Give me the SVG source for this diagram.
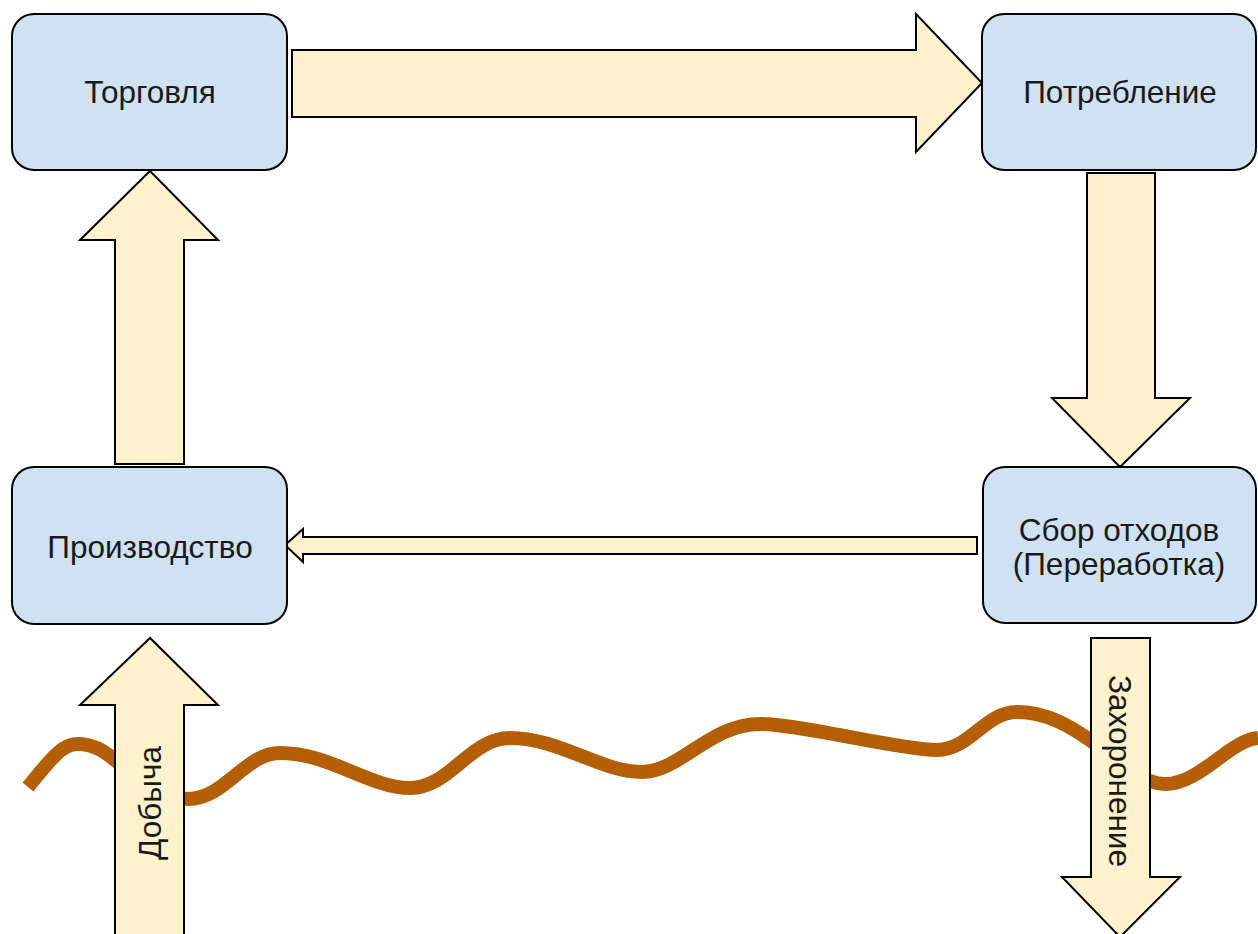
<svg xmlns="http://www.w3.org/2000/svg" width="1258" height="934" viewBox="0 0 1258 934">
<style>
.node rect{fill:#cfe2f3;stroke:#000;stroke-width:2}
.arr{fill:#fff2cc;stroke:#000;stroke-width:2;stroke-linejoin:miter}
text{font-family:"Liberation Sans",Arial,sans-serif;font-size:31.5px;fill:#1a1a1a;text-anchor:middle}
</style>
<rect width="1258" height="934" fill="#fff"/>
<g id="ground">
<path d="M28,787 C50,760 62,744 77,744 C95,744 105,752 115,760 C140,780 165,799 188,799 C225,799 245,753 280,753 C330,753 370,788 410,788 C450,788 470,738 510,738 C560,738 600,772 642,772 C680,772 710,724 760,724 C800,724 900,750 937,750 C970,750 985,712 1017,712 C1050,712 1075,730 1090,740 C1110,755 1140,784 1165,784 C1200,784 1230,740 1258,738" fill="none" stroke="#b45f06" stroke-width="14"/>
</g>
<g id="connectors">
<polygon class="arr" points="292,50 916,50 916,14 982,83 916,152 916,117 292,117"/>
<polygon class="arr" points="1087,173 1155,173 1155,398 1190,398 1120,467 1052,398 1087,398"/>
<polygon class="arr" points="977,537 303,537 303,529 285,545 303,562 303,554 977,554"/>
<polygon class="arr" points="115,464 115,240 80,240 150,171 218,240 184,240 184,464"/>
<polygon class="arr" points="115,940 115,705 80,705 150,638 218,705 184,705 184,940"/>
<polygon class="arr" points="1091,638 1150,638 1150,877 1180,877 1120,937 1062,877 1091,877"/>
<text transform="translate(150,803) rotate(-90)" dy="11">Добыча</text>
<text transform="translate(1120,771) rotate(90)" dy="11">Захоронение</text>
</g>
<g id="torgovlya" class="node">
<rect x="12" y="14" width="275" height="156" rx="22"/>
<text x="150" y="103">Торговля</text>
</g>
<g id="potreblenie" class="node">
<rect x="982" y="14" width="274" height="156" rx="22"/>
<text x="1120" y="103">Потребление</text>
</g>
<g id="proizvodstvo" class="node">
<rect x="12" y="467" width="275" height="157" rx="22"/>
<text x="150" y="558">Производство</text>
</g>
<g id="sbor" class="node">
<rect x="983" y="467" width="273" height="156" rx="22"/>
<text x="1119" y="541">Сбор отходов</text>
<text x="1119" y="575">(Переработка)</text>
</g>
</svg>
